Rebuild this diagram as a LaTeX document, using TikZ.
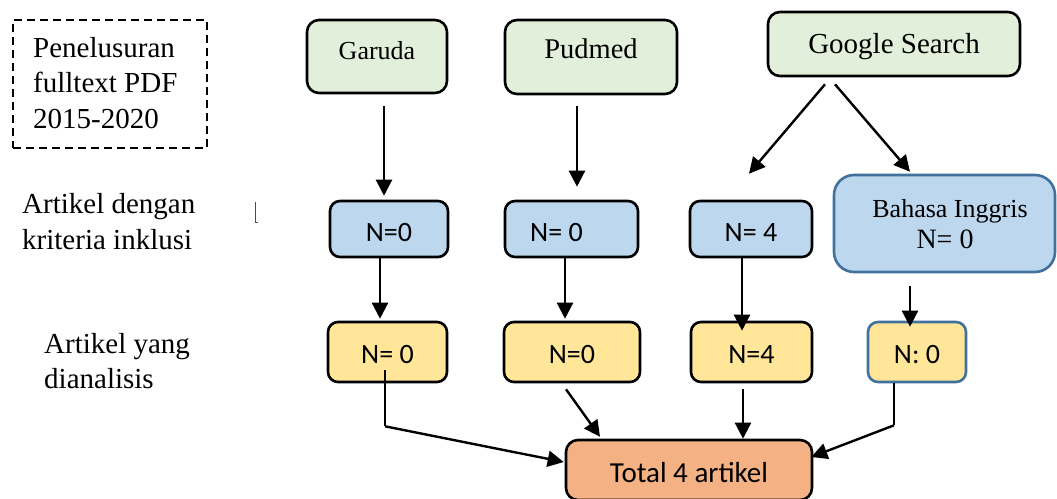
\documentclass[tikz,border=0pt]{standalone}
\usepackage{fontspec}
\setmainfont{Liberation Serif}
\newfontfamily\calibri{Carlito}
\usetikzlibrary{arrows.meta,calc}
\definecolor{gfill}{HTML}{E2EFDA}
\definecolor{bfill}{HTML}{BDD7EE}
\definecolor{yfill}{HTML}{FFE699}
\definecolor{ofill}{HTML}{F4B183}
\definecolor{bline}{HTML}{41719C}
\begin{document}
\begin{tikzpicture}[x=1pt,y=-1pt,
  box/.style={draw=black,line width=2.6pt,rounded corners=12pt,inner sep=0pt},
  srcbox/.style={box,fill=gfill},
  inclbox/.style={box,fill=bfill,rounded corners=10pt,font=\calibri\fontsize{28}{34}\selectfont,text height=25pt,text depth=0pt},
  anbox/.style={box,fill=yfill,rounded corners=10pt,font=\calibri\fontsize{28}{34}\selectfont,text height=22pt,text depth=0pt},
  arr/.style={line width=2.4pt,-{Triangle[length=16pt,width=16pt]}},
  thinline/.style={line width=1.4pt},
  lbl/.style={anchor=base west,inner sep=0pt,font=\fontsize{29}{35}\selectfont}
]
\useasboundingbox (0,0) rectangle (1057,498);
\fill[white] (0,0) rectangle (1057,498);

% dashed search box and its text
\node[draw=black,line width=2.8pt,dash pattern=on 8pt off 5pt,minimum width=194pt,minimum height=128pt,inner sep=0pt] (search) at (110,84) {};
\node[lbl] (pen1) at (33,57) {Penelusuran};
\node[lbl] (pen2) at (33,92) {fulltext PDF};
\node[lbl] (pen3) at (33,128) {2015-2020};

% row labels
\node[lbl] (inc1) at (22,213) {Artikel dengan};
\node[lbl] (inc2) at (22,249) {kriteria inklusi};
\node[lbl] (ana1) at (44,353) {Artikel yang};
\node[lbl] (ana2) at (44,388) {dianalisis};

% stray mark
\draw[line width=0.9pt,draw=black!70] (255,202) -- (255,222) -- (257.5,222);

% sources
\node[srcbox,minimum width=140pt,minimum height=73pt,font=\fontsize{26}{31}\selectfont,text height=18pt,text depth=13pt] (garuda) at (377,56.5) {Garuda};
\node[srcbox,minimum width=172pt,minimum height=74pt,font=\fontsize{28.5}{34}\selectfont,text height=19.5pt,text depth=17.5pt] (pudmed) at (591,57) {Pudmed};
\node[srcbox,minimum width=252pt,minimum height=64pt,font=\fontsize{29}{35}\selectfont,text height=20pt,text depth=2pt] (google) at (894,44) {Google Search};

% inclusion row
\node[inclbox,minimum width=118pt,minimum height=56pt] (b1) at (389,229) {N=0};
\node[inclbox,minimum width=133pt,minimum height=56pt] (b2) at (571.5,229) {N= 0\kern30pt};
\node[inclbox,minimum width=122pt,minimum height=56pt] (b3) at (751,229) {N= 4};
\node[box,draw=bline,fill=bfill,rounded corners=20pt,minimum width=221pt,minimum height=97pt] (bahasa) at (944.5,223.5) {};
\node[anchor=base,inner sep=0pt,font=\fontsize{26}{31}\selectfont] (bahasa1) at (950,217) {Bahasa Inggris};
\node[anchor=base,inner sep=0pt,font=\fontsize{28}{31}\selectfont] (bahasa2) at (945,248) {N= 0};

% analysed row
\node[anbox,minimum width=119pt,minimum height=60pt] (y1) at (387.5,352) {N= 0};
\node[anbox,minimum width=136pt,minimum height=60pt] (y2) at (572,352) {N=0};
\node[anbox,minimum width=121pt,minimum height=60pt] (y3) at (751.5,352) {N=4};
\node[anbox,draw=bline,minimum width=98pt,minimum height=60pt] (y4) at (917,352) {N: 0};

% total
\node[box,fill=ofill,minimum width=246pt,minimum height=60pt,font=\calibri\fontsize{29}{35}\selectfont,text height=24pt,text depth=0pt] (total) at (689,470) {Total 4 artikel};

% connectors
\draw[arr] ($(garuda.south)+(7,12)$) -- ($(b1.north)+(-5,-4)$);
\draw[arr] ($(pudmed.south)+(-14,11)$) -- ($(b2.north)+(5.5,-13)$);
\draw[arr] ($(google.south)+(-69,7)$) -- ($(b3.north)+(-2,-26)$);
\draw[arr] ($(google.south)+(-59,7)$) -- ($(bahasa.north)+(-34.5,-2)$);
\draw[arr] ($(b1.south)+(-9,0)$) -- ($(y1.north)+(-7.5,-2)$);
\draw[arr] ($(b2.south)+(-6.5,0)$) -- ($(y2.north)+(-7,-2)$);
\draw[arr] ($(b3.south)+(-9,0)$) -- ($(y3.north)+(-9.5,10)$);
\draw[arr] ($(bahasa.south)+(-34.5,13)$) -- ($(y4.north)+(-7,6)$);
\coordinate (j1) at ($(y1.south)+(-2.5,43)$);
\draw[thinline] ($(y1.center)+(-2.5,18)$) -- (j1);
\draw[arr] (j1) -- ($(total.west)+(-1,-8)$);
\draw[arr] ($(y2.south)+(-6,6)$) -- ($(total.north)+(-89,-2)$);
\draw[arr] ($(y3.south)+(-8.5,6)$) -- ($(total.north)+(54,0)$);
\coordinate (j2) at ($(y4.south)+(-23,42)$);
\draw[thinline] ($(y4.south)+(-23,0)$) -- (j2);
\draw[arr] (j2) -- ($(total.east)+(-2,-13)$);
\end{tikzpicture}
\end{document}
